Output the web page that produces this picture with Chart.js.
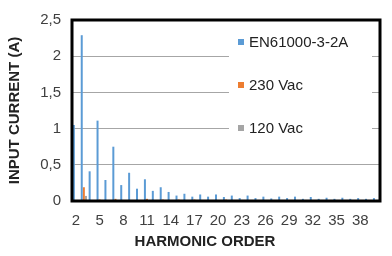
<!DOCTYPE html>
<html>
<head>
<meta charset="utf-8">
<script src="https://cdn.jsdelivr.net/npm/chart.js@4.4.1/dist/chart.umd.min.js"></script>
<style>
  html, body { margin: 0; padding: 0; background: #fff; }
  canvas { display: block; }
</style>
</head>
<body>
<canvas id="harmonics" width="392" height="256"></canvas>
<script>
// harmonic orders 2..40
const orders = [2, 3, 4, 5, 6, 7, 8, 9, 10, 11, 12, 13, 14, 15, 16, 17, 18, 19, 20, 21,
                22, 23, 24, 25, 26, 27, 28, 29, 30, 31, 32, 33, 34, 35, 36, 37, 38, 39, 40];

// EN61000-3-2 class A limit (A)
const limitA = [1.05, 2.29, 0.41, 1.11, 0.29, 0.75, 0.22, 0.39, 0.17, 0.30,
                0.14, 0.19, 0.125, 0.075, 0.10, 0.06, 0.09, 0.06, 0.09, 0.055,
                0.075, 0.04, 0.075, 0.04, 0.06, 0.035, 0.06, 0.04, 0.06, 0.03,
                0.055, 0.03, 0.045, 0.03, 0.045, 0.03, 0.04, 0.03, 0.04];

// measured at 230 Vac
const vac230 = [0.01, 0.19, 0, 0.02, 0, 0.03, 0, 0.01, 0, 0.03,
                0, 0.02, 0, 0.02, 0, 0.02, 0, 0.01, 0, 0.02,
                0, 0.01, 0, 0.005, 0, 0.005, 0, 0.005, 0, 0.005,
                0, 0.005, 0, 0.005, 0, 0.005, 0, 0.005, 0];

// measured at 120 Vac
const vac120 = [0.005, 0.07, 0.005, 0.005, 0.005, 0.005, 0.005, 0.005, 0.005, 0.005,
                0.005, 0.005, 0.005, 0.005, 0.005, 0.005, 0.005, 0.005, 0.005, 0.005,
                0.005, 0.005, 0.005, 0.005, 0.005, 0.005, 0.005, 0.005, 0.005, 0.005,
                0.005, 0.005, 0.005, 0.005, 0.005, 0.005, 0.005, 0.005, 0.005];

const seriesNames = ['EN61000-3-2A', '230 Vac', '120 Vac'];
const xTitle = 'HARMONIC ORDER';
const yTitle = 'INPUT CURRENT (A)';

const FONT = "'Liberation Sans', Arial, sans-serif";

// legend box floating inside the plot, plus the heavy frame and x title
const excelLook = {
    id: 'excelLook',
    beforeDatasetsDraw(chart) {
        const ctx = chart.ctx;
        ctx.save();
        ctx.fillStyle = '#fff';
        ctx.fillRect(229, 20, 143, 130);
        ctx.font = '15px ' + FONT;
        ctx.textBaseline = 'middle';
        const rows = [42, 85, 128];
        chart.data.datasets.forEach((ds, i) => {
            ctx.fillStyle = ds.backgroundColor;
            ctx.fillRect(238, rows[i] - 3, 6, 6);
            ctx.fillStyle = '#222';
            ctx.fillText(ds.label, 249, rows[i] + 1);
        });
        ctx.restore();
    },
    afterDraw(chart) {
        const ctx = chart.ctx;
        const a = chart.chartArea;
        ctx.save();
        ctx.strokeStyle = '#000';
        ctx.lineWidth = 3;
        ctx.strokeRect(a.left, a.top, a.right - a.left, a.bottom - a.top);
        ctx.fillStyle = '#222';
        ctx.font = 'bold 15px ' + FONT;
        ctx.textAlign = 'center';
        ctx.textBaseline = 'middle';
        ctx.fillText(xTitle, 205, 242);
        ctx.restore();
    }
};

new Chart(document.getElementById('harmonics'), {
    type: 'bar',
    data: {
        labels: orders,
        datasets: [
            { label: seriesNames[0], data: limitA, backgroundColor: '#5B9BD5' },
            { label: seriesNames[1], data: vac230, backgroundColor: '#ED7D31' },
            { label: seriesNames[2], data: vac120, backgroundColor: '#A5A5A5' }
        ]
    },
    options: {
        responsive: false,
        animation: false,
        devicePixelRatio: 1,
        layout: { padding: { top: 17, right: 12, left: 0, bottom: 0 } },
        datasets: {
            bar: { categoryPercentage: 0.8, barPercentage: 0.95 }
        },
        plugins: {
            legend: { display: false },
            tooltip: { enabled: false }
        },
        scales: {
            x: {
                grid: { display: false, drawTicks: false },
                border: { display: false },
                ticks: {
                    autoSkip: false,
                    maxRotation: 0,
                    padding: 11,
                    color: '#404040',
                    font: { family: FONT, size: 15 },
                    callback: (v, i) => (i % 3 === 0 ? String(orders[i]) : '')
                },
                afterFit: s => { s.height = 55; }
            },
            y: {
                min: 0,
                max: 2.5,
                grid: { color: '#a6a6a6', lineWidth: 1, drawTicks: false },
                border: { display: false },
                ticks: {
                    stepSize: 0.5,
                    padding: 11,
                    color: '#404040',
                    font: { family: FONT, size: 15 },
                    callback: v => String(v).replace('.', ',')
                },
                title: {
                    display: true,
                    text: yTitle,
                    color: '#222',
                    padding: { top: 6, bottom: 0 },
                    font: { family: FONT, size: 15, weight: 'bold' }
                },
                afterFit: s => { s.width = 72; }
            }
        }
    },
    plugins: [excelLook]
});
</script>
</body>
</html>
